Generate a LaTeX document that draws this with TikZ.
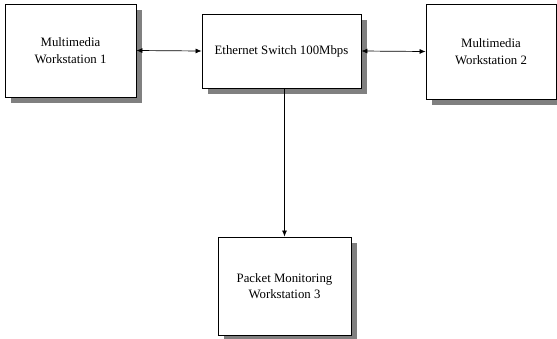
\documentclass[tikz,border=0pt]{standalone}
\usepackage{fontspec}
\setmainfont{Liberation Serif}
\usetikzlibrary{arrows.meta,shadows}
\begin{document}
\begin{tikzpicture}[x=1pt,y=-1pt,
  box/.style={draw=black, line width=0.9pt, fill=white, align=center, inner sep=0pt,
    font=\fontsize{12.8pt}{16.5pt}\selectfont,
    drop shadow={shadow xshift=5.5pt, shadow yshift=-5.5pt, fill=black!50, opacity=1}},
  link/.style={line width=0.7pt, {Latex[length=6pt,width=5pt]}-{Latex[length=6pt,width=5pt]}},
  down/.style={line width=0.7pt, -{Latex[length=6pt,width=5pt]}}]
\useasboundingbox (0,0) rectangle (557,338);
\node[box, minimum width=131pt, minimum height=93pt] (b1) at (70.5,50.5) {Multimedia\\Workstation 1};
\node[box, minimum width=159pt, minimum height=74pt] (sw) at (281.5,51) {Ethernet Switch 100Mbps};
\node[box, minimum width=130pt, minimum height=95pt] (b3) at (491,51.5) {Multimedia\\Workstation 2};
\node[box, minimum width=133pt, minimum height=98pt] (b4) at (284.5,286) {Packet Monitoring\\Workstation 3};
\draw[link] (b1.east) -- (sw.west);
\draw[link] (sw.east) -- (b3.west);
\draw[down] (b4.north |- sw.south) -- (b4.north);
\end{tikzpicture}
\end{document}
